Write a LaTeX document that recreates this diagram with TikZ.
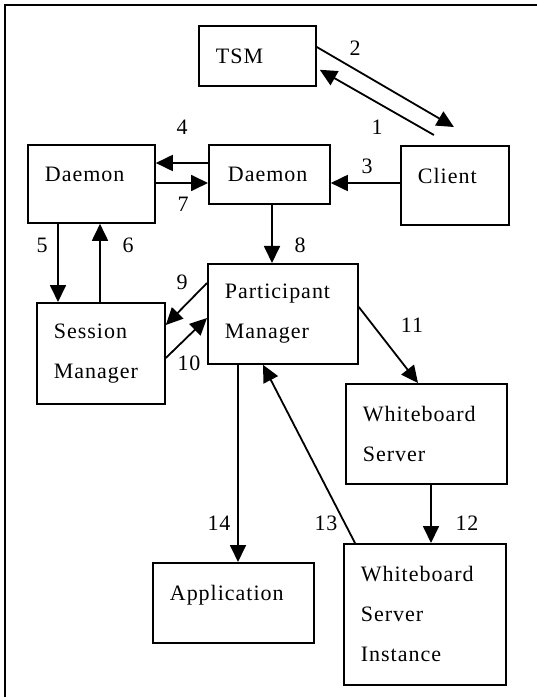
\documentclass[tikz,border=0pt]{standalone}
\usepackage{fontspec}
\setmainfont[LetterSpace=4.5]{Liberation Serif}
\usetikzlibrary{arrows.meta}
\newcommand\boxfont{\fontsize{22}{40}\selectfont}
\tikzstyle{unit} = [draw, line width=1.8pt, rectangle, anchor=north west,
    inner xsep=17pt, inner ysep=0pt, align=left, font=\boxfont]
\tikzstyle{msg} = [line width=1.8pt, -{Triangle[length=17pt,width=16pt]}]
\tikzstyle{num} = [inner sep=0pt, font=\boxfont]

\begin{document}
\begin{tikzpicture}[x=1pt,y=-1pt]
\useasboundingbox (0,0) rectangle (537,700);
% frame
\draw[line width=1.8pt] (5,697) -- (5,5) -- (540,5);

% boxes
\node[unit, text width=83pt, minimum height=60pt] (tsm) at (198,25) {TSM};
\node[unit, text width=93pt, minimum height=78pt, text depth=20pt] (dleft) at (27,144) {Daemon};
\node[unit, text width=83pt, minimum height=59pt, inner xsep=19pt] (dmid) at (208,144) {Daemon};
\node[unit, text width=74pt, minimum height=79pt, text depth=20pt] (client) at (400,145) {Client};
\node[unit, text width=116pt, minimum height=100pt] (part) at (207,263) {Participant\\Manager};
\node[unit, text width=94pt, minimum height=101pt] (sess) at (36,302) {Session\\Manager};
\node[unit, text width=127pt, minimum height=100pt] (wbs) at (345,383) {Whiteboard\\Server};
\node[unit, text width=127pt, minimum height=80pt, text depth=20pt] (app) at (152,562) {Application};
\node[unit, text width=128pt, minimum height=141pt] (wbi) at (343,543) {Whiteboard\\Server\\Instance};

% messages
\draw[msg] ([xshift=-21pt,yshift=10pt]client.north) -- ([yshift=17pt,xshift=3pt]tsm.south east);
\draw[msg] ([yshift=-22pt]tsm.north east) -- ([xshift=-1pt,yshift=18pt]client.north);
\draw[msg] ([yshift=-38pt]client.north west) -- ([yshift=-39pt]dmid.north east);
\draw[msg] ([yshift=-19pt]dmid.north west) -- ([yshift=-19pt]dleft.north east);
\draw[msg] ([xshift=31pt]dleft.south west) -- ([xshift=22pt]sess.north west);
\draw[msg] ([xshift=64pt]sess.north west) -- ([xshift=73pt]dleft.south west);
\draw[msg] ([yshift=-39pt]dleft.north east) -- ([yshift=-39pt]dmid.north west);
\draw[msg] ([xshift=64pt]dmid.south west) -- ([xshift=65pt]part.north west);
\draw[msg] ([yshift=-20pt]part.north west) -- ([yshift=-23pt]sess.north east);
\draw[msg] ([yshift=-56pt]sess.north east) -- ([yshift=-55pt]part.north west);
\draw[msg] ([yshift=-44pt]part.north east) -- ([xshift=73pt]wbs.north west);
\draw[msg] ([xshift=86pt]wbs.south west) -- ([xshift=88pt]wbi.north west);
\draw[msg] ([xshift=12pt]wbi.north west) -- ([xshift=56pt]part.south west);
\draw[msg] ([xshift=31pt]part.south west) -- ([xshift=86pt]app.north west);

% numbers
\node[num] (n1) at (377,127) {1};
\node[num] (n2) at (355,48) {2};
\node[num] (n3) at (367,166) {3};
\node[num] (n4) at (182,127) {4};
\node[num] (n5) at (42,245) {5};
\node[num] (n6) at (128,245) {6};
\node[num] (n7) at (183,204) {7};
\node[num] (n8) at (300,245) {8};
\node[num] (n9) at (182,282) {9};
\node[num] (n10) at (189,363) {10};
\node[num] (n11) at (412,325) {11};
\node[num] (n12) at (467,523) {12};
\node[num] (n13) at (326,523) {13};
\node[num] (n14) at (219,523) {14};
\end{tikzpicture}
\end{document}
